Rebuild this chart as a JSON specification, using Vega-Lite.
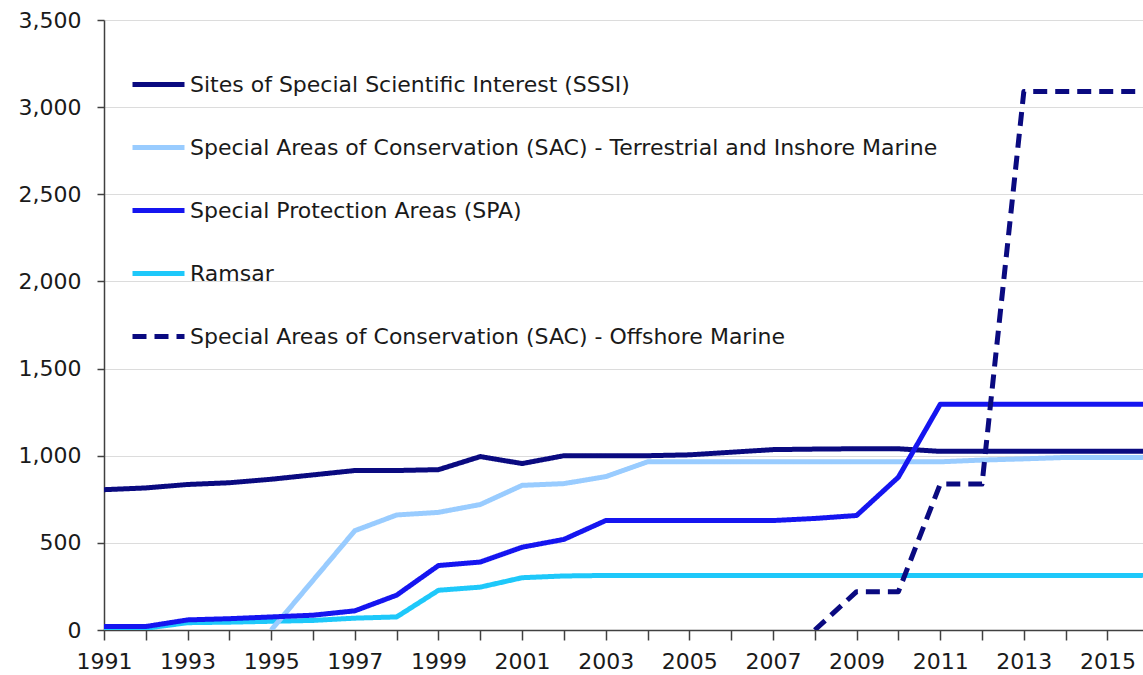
{
  "$schema": "https://vega.github.io/schema/vega-lite/v6.json",
  "autosize": {"type": "none"},
  "padding": {"left": 104, "top": 20, "right": 0, "bottom": 45},
  "width": 1039,
  "height": 610,
  "background": "white",
  "config": {
    "view": {"stroke": null},
    "font": "DejaVu Sans"
  },
  "data": {
    "values": [
      {"year": 1991, "series": "Ramsar", "value": 5},
      {"year": 1992, "series": "Ramsar", "value": 10},
      {"year": 1993, "series": "Ramsar", "value": 42},
      {"year": 1994, "series": "Ramsar", "value": 45},
      {"year": 1995, "series": "Ramsar", "value": 50},
      {"year": 1996, "series": "Ramsar", "value": 55},
      {"year": 1997, "series": "Ramsar", "value": 68},
      {"year": 1998, "series": "Ramsar", "value": 75},
      {"year": 1999, "series": "Ramsar", "value": 228},
      {"year": 2000, "series": "Ramsar", "value": 246},
      {"year": 2001, "series": "Ramsar", "value": 300},
      {"year": 2002, "series": "Ramsar", "value": 310},
      {"year": 2003, "series": "Ramsar", "value": 313},
      {"year": 2004, "series": "Ramsar", "value": 313},
      {"year": 2005, "series": "Ramsar", "value": 313},
      {"year": 2006, "series": "Ramsar", "value": 313},
      {"year": 2007, "series": "Ramsar", "value": 313},
      {"year": 2008, "series": "Ramsar", "value": 313},
      {"year": 2009, "series": "Ramsar", "value": 313},
      {"year": 2010, "series": "Ramsar", "value": 313},
      {"year": 2011, "series": "Ramsar", "value": 313},
      {"year": 2012, "series": "Ramsar", "value": 313},
      {"year": 2013, "series": "Ramsar", "value": 313},
      {"year": 2014, "series": "Ramsar", "value": 313},
      {"year": 2015, "series": "Ramsar", "value": 313},
      {"year": 2016, "series": "Ramsar", "value": 313},

      {"year": 1995, "series": "Special Areas of Conservation (SAC) - Terrestrial and Inshore Marine", "value": 0},
      {"year": 1996, "series": "Special Areas of Conservation (SAC) - Terrestrial and Inshore Marine", "value": 285},
      {"year": 1997, "series": "Special Areas of Conservation (SAC) - Terrestrial and Inshore Marine", "value": 570},
      {"year": 1998, "series": "Special Areas of Conservation (SAC) - Terrestrial and Inshore Marine", "value": 660},
      {"year": 1999, "series": "Special Areas of Conservation (SAC) - Terrestrial and Inshore Marine", "value": 675},
      {"year": 2000, "series": "Special Areas of Conservation (SAC) - Terrestrial and Inshore Marine", "value": 720},
      {"year": 2001, "series": "Special Areas of Conservation (SAC) - Terrestrial and Inshore Marine", "value": 830},
      {"year": 2002, "series": "Special Areas of Conservation (SAC) - Terrestrial and Inshore Marine", "value": 840},
      {"year": 2003, "series": "Special Areas of Conservation (SAC) - Terrestrial and Inshore Marine", "value": 880},
      {"year": 2004, "series": "Special Areas of Conservation (SAC) - Terrestrial and Inshore Marine", "value": 965},
      {"year": 2005, "series": "Special Areas of Conservation (SAC) - Terrestrial and Inshore Marine", "value": 965},
      {"year": 2006, "series": "Special Areas of Conservation (SAC) - Terrestrial and Inshore Marine", "value": 965},
      {"year": 2007, "series": "Special Areas of Conservation (SAC) - Terrestrial and Inshore Marine", "value": 965},
      {"year": 2008, "series": "Special Areas of Conservation (SAC) - Terrestrial and Inshore Marine", "value": 965},
      {"year": 2009, "series": "Special Areas of Conservation (SAC) - Terrestrial and Inshore Marine", "value": 965},
      {"year": 2010, "series": "Special Areas of Conservation (SAC) - Terrestrial and Inshore Marine", "value": 965},
      {"year": 2011, "series": "Special Areas of Conservation (SAC) - Terrestrial and Inshore Marine", "value": 965},
      {"year": 2012, "series": "Special Areas of Conservation (SAC) - Terrestrial and Inshore Marine", "value": 975},
      {"year": 2013, "series": "Special Areas of Conservation (SAC) - Terrestrial and Inshore Marine", "value": 982},
      {"year": 2014, "series": "Special Areas of Conservation (SAC) - Terrestrial and Inshore Marine", "value": 990},
      {"year": 2015, "series": "Special Areas of Conservation (SAC) - Terrestrial and Inshore Marine", "value": 990},
      {"year": 2016, "series": "Special Areas of Conservation (SAC) - Terrestrial and Inshore Marine", "value": 990},

      {"year": 1991, "series": "Sites of Special Scientific Interest (SSSI)", "value": 805},
      {"year": 1992, "series": "Sites of Special Scientific Interest (SSSI)", "value": 815},
      {"year": 1993, "series": "Sites of Special Scientific Interest (SSSI)", "value": 835},
      {"year": 1994, "series": "Sites of Special Scientific Interest (SSSI)", "value": 845},
      {"year": 1995, "series": "Sites of Special Scientific Interest (SSSI)", "value": 865},
      {"year": 1996, "series": "Sites of Special Scientific Interest (SSSI)", "value": 890},
      {"year": 1997, "series": "Sites of Special Scientific Interest (SSSI)", "value": 915},
      {"year": 1998, "series": "Sites of Special Scientific Interest (SSSI)", "value": 915},
      {"year": 1999, "series": "Sites of Special Scientific Interest (SSSI)", "value": 920},
      {"year": 2000, "series": "Sites of Special Scientific Interest (SSSI)", "value": 995},
      {"year": 2001, "series": "Sites of Special Scientific Interest (SSSI)", "value": 955},
      {"year": 2002, "series": "Sites of Special Scientific Interest (SSSI)", "value": 1000},
      {"year": 2003, "series": "Sites of Special Scientific Interest (SSSI)", "value": 1000},
      {"year": 2004, "series": "Sites of Special Scientific Interest (SSSI)", "value": 1000},
      {"year": 2005, "series": "Sites of Special Scientific Interest (SSSI)", "value": 1005},
      {"year": 2006, "series": "Sites of Special Scientific Interest (SSSI)", "value": 1020},
      {"year": 2007, "series": "Sites of Special Scientific Interest (SSSI)", "value": 1035},
      {"year": 2008, "series": "Sites of Special Scientific Interest (SSSI)", "value": 1038},
      {"year": 2009, "series": "Sites of Special Scientific Interest (SSSI)", "value": 1040},
      {"year": 2010, "series": "Sites of Special Scientific Interest (SSSI)", "value": 1040},
      {"year": 2011, "series": "Sites of Special Scientific Interest (SSSI)", "value": 1025},
      {"year": 2012, "series": "Sites of Special Scientific Interest (SSSI)", "value": 1025},
      {"year": 2013, "series": "Sites of Special Scientific Interest (SSSI)", "value": 1025},
      {"year": 2014, "series": "Sites of Special Scientific Interest (SSSI)", "value": 1025},
      {"year": 2015, "series": "Sites of Special Scientific Interest (SSSI)", "value": 1025},
      {"year": 2016, "series": "Sites of Special Scientific Interest (SSSI)", "value": 1025},

      {"year": 1991, "series": "Special Protection Areas (SPA)", "value": 20},
      {"year": 1992, "series": "Special Protection Areas (SPA)", "value": 20},
      {"year": 1993, "series": "Special Protection Areas (SPA)", "value": 58},
      {"year": 1994, "series": "Special Protection Areas (SPA)", "value": 65},
      {"year": 1995, "series": "Special Protection Areas (SPA)", "value": 75},
      {"year": 1996, "series": "Special Protection Areas (SPA)", "value": 85},
      {"year": 1997, "series": "Special Protection Areas (SPA)", "value": 110},
      {"year": 1998, "series": "Special Protection Areas (SPA)", "value": 200},
      {"year": 1999, "series": "Special Protection Areas (SPA)", "value": 370},
      {"year": 2000, "series": "Special Protection Areas (SPA)", "value": 390},
      {"year": 2001, "series": "Special Protection Areas (SPA)", "value": 475},
      {"year": 2002, "series": "Special Protection Areas (SPA)", "value": 520},
      {"year": 2003, "series": "Special Protection Areas (SPA)", "value": 628},
      {"year": 2004, "series": "Special Protection Areas (SPA)", "value": 628},
      {"year": 2005, "series": "Special Protection Areas (SPA)", "value": 628},
      {"year": 2006, "series": "Special Protection Areas (SPA)", "value": 628},
      {"year": 2007, "series": "Special Protection Areas (SPA)", "value": 628},
      {"year": 2008, "series": "Special Protection Areas (SPA)", "value": 640},
      {"year": 2009, "series": "Special Protection Areas (SPA)", "value": 657},
      {"year": 2010, "series": "Special Protection Areas (SPA)", "value": 877},
      {"year": 2011, "series": "Special Protection Areas (SPA)", "value": 1295},
      {"year": 2012, "series": "Special Protection Areas (SPA)", "value": 1295},
      {"year": 2013, "series": "Special Protection Areas (SPA)", "value": 1295},
      {"year": 2014, "series": "Special Protection Areas (SPA)", "value": 1295},
      {"year": 2015, "series": "Special Protection Areas (SPA)", "value": 1295},
      {"year": 2016, "series": "Special Protection Areas (SPA)", "value": 1295},

      {"year": 2008, "series": "Special Areas of Conservation (SAC) - Offshore Marine", "value": 0},
      {"year": 2009, "series": "Special Areas of Conservation (SAC) - Offshore Marine", "value": 220},
      {"year": 2010, "series": "Special Areas of Conservation (SAC) - Offshore Marine", "value": 220},
      {"year": 2011, "series": "Special Areas of Conservation (SAC) - Offshore Marine", "value": 837},
      {"year": 2012, "series": "Special Areas of Conservation (SAC) - Offshore Marine", "value": 837},
      {"year": 2013, "series": "Special Areas of Conservation (SAC) - Offshore Marine", "value": 3090},
      {"year": 2014, "series": "Special Areas of Conservation (SAC) - Offshore Marine", "value": 3090},
      {"year": 2015, "series": "Special Areas of Conservation (SAC) - Offshore Marine", "value": 3090},
      {"year": 2016, "series": "Special Areas of Conservation (SAC) - Offshore Marine", "value": 3090}
    ]
  },
  "mark": {"type": "line", "strokeWidth": 5, "clip": true, "strokeJoin": "round"},
  "encoding": {
    "x": {
      "field": "year",
      "type": "quantitative",
      "scale": {"domain": [1991, 2015.85], "nice": false, "zero": false},
      "axis": {
        "title": null,
        "grid": false,
        "values": [1991,1992,1993,1994,1995,1996,1997,1998,1999,2000,2001,2002,2003,2004,2005,2006,2007,2008,2009,2010,2011,2012,2013,2014,2015],
        "format": "d",
        "labelExpr": "datum.value % 2 == 1 ? datum.label : ''",
        "labelFontSize": 22,
        "labelColor": "#1a1a1a",
        "labelPadding": 11,
        "tickSize": 10,
        "tickColor": "#404040",
        "tickWidth": 1.5,
        "domainColor": "#404040",
        "domainWidth": 1.5,
        "labelFlush": false,
        "labelOverlap": false
      }
    },
    "y": {
      "field": "value",
      "type": "quantitative",
      "scale": {"domain": [0, 3500], "nice": false},
      "axis": {
        "title": null,
        "values": [0, 500, 1000, 1500, 2000, 2500, 3000, 3500],
        "format": ",d",
        "labelFontSize": 22,
        "labelColor": "#1a1a1a",
        "labelPadding": 16,
        "tickSize": 7,
        "tickColor": "#404040",
        "tickWidth": 1.5,
        "domainColor": "#404040",
        "domainWidth": 1.5,
        "gridColor": "#dcdcdc",
        "gridWidth": 1
      }
    },
    "color": {
      "field": "series",
      "type": "nominal",
      "scale": {
        "domain": [
          "Sites of Special Scientific Interest (SSSI)",
          "Special Areas of Conservation (SAC) - Terrestrial and Inshore Marine",
          "Special Protection Areas (SPA)",
          "Ramsar",
          "Special Areas of Conservation (SAC) - Offshore Marine"
        ],
        "range": ["#0a0a80", "#99ccff", "#1515f0", "#1ec8fa", "#0a0a80"]
      },
      "legend": {
        "title": null,
        "orient": "none",
        "legendX": 26,
        "legendY": 36,
        "padding": 0,
        "symbolType": "stroke",
        "symbolSize": 2704,
        "symbolStrokeWidth": 5,
        "labelFontSize": 22,
        "labelColor": "#1a1a1a",
        "labelOffset": 3,
        "labelLimit": 900,
        "rowPadding": 23
      }
    },
    "strokeDash": {
      "field": "series",
      "type": "nominal",
      "scale": {
        "domain": [
          "Sites of Special Scientific Interest (SSSI)",
          "Special Areas of Conservation (SAC) - Terrestrial and Inshore Marine",
          "Special Protection Areas (SPA)",
          "Ramsar",
          "Special Areas of Conservation (SAC) - Offshore Marine"
        ],
        "range": [[1, 0], [1, 0], [1, 0], [1, 0], [14, 8]]
      },
      "legend": null
    }
  }
}
